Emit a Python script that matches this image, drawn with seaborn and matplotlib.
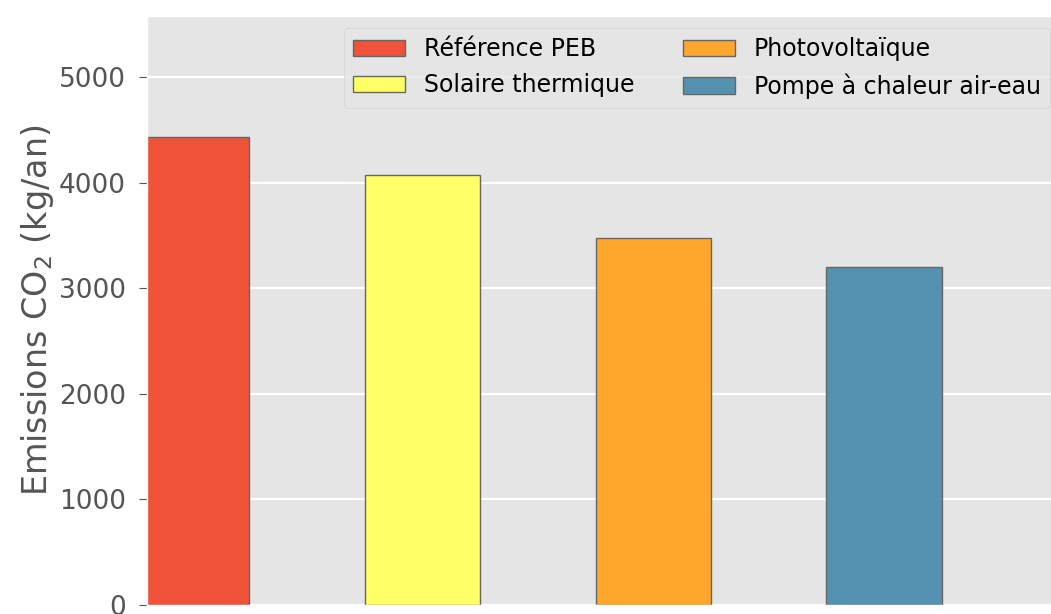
import matplotlib
matplotlib.use('Agg')
import matplotlib.pyplot as plt
import seaborn as sns

# Data
categories = ['Référence PEB', 'Solaire thermique', 'Photovoltaïque', 'Pompe à chaleur air-eau']
emissions = [4430, 4075, 3475, 3200]
colors = ['#F0533A', '#FFFF66', '#FFA62D', '#5592B0']

plt.style.use('ggplot')

W, H = 1051, 614
fig = plt.figure(figsize=(W / 100, H / 100), dpi=100)
# axes runs slightly past the right edge, like the cropped original
left, right, top, bottom = 147, 1062, 16, 605
ax = fig.add_axes([left / W, (H - bottom) / H, (right - left) / W, (bottom - top) / H])

sns.barplot(x=categories, y=emissions, hue=categories, palette=colors,
            width=0.5, edgecolor='#666666', linewidth=1, saturation=1,
            dodge=False, legend=True, ax=ax)

ax.set_xlim(-0.193, 3.77)
ax.set_ylim(0, 5580)
ax.set_yticks([0, 1000, 2000, 3000, 4000, 5000])
ax.tick_params(axis='y', labelsize=19, colors='#555555', length=6, pad=9)
ax.tick_params(axis='x', length=0, labelbottom=False)
ax.set_xlabel('')
ax.set_ylabel('Emissions CO$_2$ (kg/an)', fontsize=24, color='#555555', labelpad=2)
ax.grid(axis='x', visible=False)
ax.grid(axis='y', color='white', linewidth=1.6)

ax.legend(ncol=2, loc='upper right', fontsize=17, columnspacing=2.05,
          handlelength=2.2)

fig.savefig('out.png', dpi=100)
